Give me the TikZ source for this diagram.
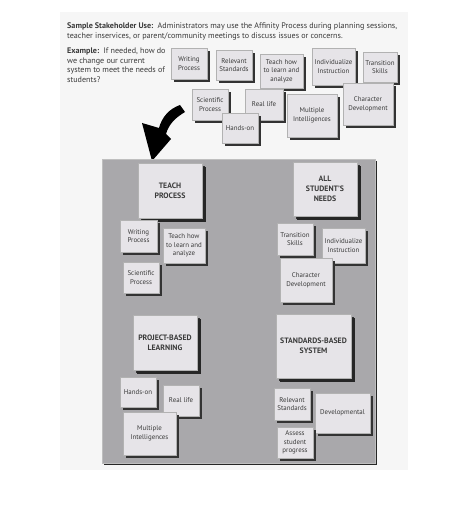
\documentclass[tikz,border=0pt]{standalone}
\usepackage{fontspec}
\setmainfont{PT Sans}
\usetikzlibrary{shadows}
\definecolor{cardfill}{HTML}{E6E4E8}
\definecolor{panelfill}{HTML}{A9A8AB}
\definecolor{txt}{HTML}{3A3A3A}
\definecolor{pagebg}{HTML}{F6F6F6}
\begin{document}
\begin{tikzpicture}[x=1pt,y=-1pt,
  card/.style={draw=gray!60, fill=cardfill, text=txt, align=center, inner sep=1pt,
    font=\fontsize{6.9}{8.5}\selectfont,
    drop shadow={shadow xshift=3pt, shadow yshift=-3pt, opacity=1, fill=black!80}},
  bigcard/.style={card, font=\fontsize{7.8}{10}\selectfont\bfseries,
    drop shadow={shadow xshift=4pt, shadow yshift=-4pt, opacity=1, fill=black!85}},
  head/.style={anchor=west, inner sep=0pt, text=txt, font=\fontsize{8.1}{10}\selectfont}]
\useasboundingbox (0,0) rectangle (474,526);
\fill[white] (0,0) rectangle (474,526);
\fill[pagebg] (60,12) rectangle (408,470);
% header text
\node[head] (h1) at (67,26) {\textbf{Sample Stakeholder Use:}\ \ Administrators may use the Affinity Process during planning sessions,};
\node[head] (h2) at (67,36) {teacher inservices, or parent/community meetings to discuss issues or concerns.};
\node[head, anchor=north west, align=left, font=\fontsize{8.1}{9.4}\selectfont] (ex) at (67,48) {\textbf{Example:}\ \ If needed, how do\\we change our current\\system to meet the needs of\\students?};
% top cards
\node[card, minimum width=36pt, minimum height=31pt] (wp1) at (189,63.5) {Writing\\Process};
\node[card, minimum width=36pt, minimum height=30pt] (rs1) at (234,65) {Relevant\\Standards};
\node[card, minimum width=43pt, minimum height=34pt] (th1) at (281.5,71) {Teach how\\to learn and\\analyze};
\node[card, minimum width=43pt, minimum height=37pt] (ii1) at (333.5,66.5) {Individualize\\Instruction};
\node[card, minimum width=34pt, minimum height=30pt] (ts1) at (380,67) {Transition\\Skills};
\node[card, minimum width=36pt, minimum height=31pt] (sp1) at (210,104.5) {Scientific\\Process};
\node[card, minimum width=38pt, minimum height=31pt] (rl1) at (264,104.5) {Real life};
\node[card, minimum width=50pt, minimum height=43pt] (mi1) at (312,115.5) {Multiple\\Intelligences};
\node[card, minimum width=50pt, minimum height=42pt] (cd1) at (368,104) {Character\\Development};
\node[card, minimum width=36pt, minimum height=30pt] (ho1) at (240,128) {Hands-on};
% arrow
\fill[black] (180,105) .. controls (169,109) and (162,117) .. (159,128)
  -- (142,123) -- (152,161) -- (171,139) -- (166,134)
  .. controls (169,124) and (175,118) .. (185,112) -- cycle;
% panel
\node[draw=gray!50, fill=panelfill, minimum width=273pt, minimum height=304pt, inner sep=0pt,
  drop shadow={shadow xshift=2pt, shadow yshift=-2pt, opacity=1, fill=black!85}] (panel) at (238.5,311) {};
% panel cards
\node[bigcard, minimum width=64pt, minimum height=55pt] (tp) at (170,190.5) {TEACH\\PROCESS};
\node[card, minimum width=37pt, minimum height=32pt] (wp2) at (138.5,236) {Writing\\Process};
\node[card, minimum width=42pt, minimum height=35pt] (th2) at (184,245.5) {Teach how\\to learn and\\analyze};
\node[card, minimum width=36pt, minimum height=31pt] (sp2) at (141,277.5) {Scientific\\Process};
\node[bigcard, minimum width=64pt, minimum height=54pt] (asn) at (325,189) {ALL\\STUDENT'S\\NEEDS};
\node[card, minimum width=36pt, minimum height=32pt] (ts2) at (295,239) {Transition\\Skills};
\node[card, minimum width=43pt, minimum height=35pt] (ii2) at (343.5,245.5) {Individualize\\Instruction};
\node[card, minimum width=52pt, minimum height=44pt] (cd2) at (306,280) {Character\\Development};
\node[bigcard, minimum width=64pt, minimum height=55pt] (pbl) at (165,342.5) {PROJECT-BASED\\LEARNING};
\node[card, minimum width=36pt, minimum height=30pt] (ho2) at (138,392) {Hands-on};
\node[card, minimum width=36pt, minimum height=31pt] (rl2) at (181,400.5) {Real life};
\node[card, minimum width=53pt, minimum height=43pt] (mi2) at (149.5,433.5) {Multiple\\Intelligences};
\node[bigcard, minimum width=75pt, minimum height=64pt] (sbs) at (313.5,346) {STANDARDS-BASED\\SYSTEM};
\node[card, minimum width=36pt, minimum height=32pt] (rs2) at (292,404) {Relevant\\Standards};
\node[card, minimum width=55pt, minimum height=40pt] (dev) at (342.5,413) {Developmental};
\node[card, minimum width=36pt, minimum height=31pt] (asp) at (295,442.5) {Assess\\student\\progress};
\end{tikzpicture}
\end{document}
